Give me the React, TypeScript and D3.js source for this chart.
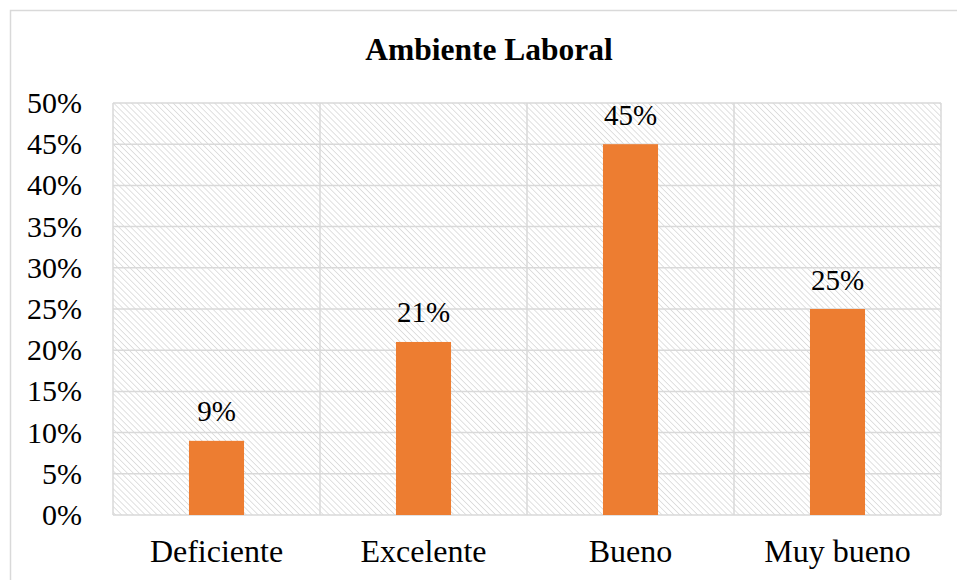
import * as d3 from 'd3';

const categories = ['Deficiente', 'Excelente', 'Bueno', 'Muy bueno'];
const values = [0.09, 0.21, 0.45, 0.25];
const tickValues = [0, 0.05, 0.1, 0.15, 0.2, 0.25, 0.3, 0.35, 0.4, 0.45, 0.5];

const width = 957;
const height = 580;
const margin = { top: 103, right: 16, bottom: 65, left: 113 };
const grid = '#d9d9d9';
const font = "'Liberation Serif', 'Times New Roman', serif";

export default function App() {
  const innerWidth = width - margin.left - margin.right;
  const innerHeight = height - margin.top - margin.bottom;

  const xScale = d3.scaleBand().domain(categories).range([0, innerWidth]);
  const yScale = d3.scaleLinear().domain([0, 0.5]).range([innerHeight, 0]);
  const barWidth = xScale.bandwidth() * 0.266;
  const fmt = d3.format('.0%');

  return (
    <svg
      width={width}
      height={height}
      style={{ position: 'absolute', left: 0, top: 0, background: '#fff', fontFamily: font }}
    >
      <defs>
        <pattern id="hatch" width={4.2} height={4.2} patternUnits="userSpaceOnUse" patternTransform="rotate(-45)">
          <line x1={0} y1={0} x2={0} y2={4.2} stroke={grid} strokeWidth={1.6} />
        </pattern>
      </defs>
      <rect x={10.5} y={10.5} width={width} height={height} fill="none" stroke={grid} strokeWidth={1.5} />
      <text x={489} y={60} textAnchor="middle" fontWeight="bold" fontSize={31.5}>
        Ambiente Laboral
      </text>
      <g transform={`translate(${margin.left}, ${margin.top})`}>
        <rect width={innerWidth} height={innerHeight} fill="url(#hatch)" />
        {tickValues.map(t => (
          <g key={t} transform={`translate(0, ${yScale(t)})`}>
            <line x2={innerWidth} stroke={grid} strokeWidth={1.5} />
            <text x={-31} y={10} textAnchor="end" fontSize={30}>
              {fmt(t)}
            </text>
          </g>
        ))}
        {categories.map(c => (
          <line key={c} x1={xScale(c)} x2={xScale(c)} y2={innerHeight} stroke={grid} strokeWidth={1.5} />
        ))}
        <line x1={innerWidth} x2={innerWidth} y2={innerHeight} stroke={grid} strokeWidth={1.5} />
        {categories.map((c, i) => {
          const cx = xScale(c) + xScale.bandwidth() / 2;
          return (
            <g key={c}>
              <rect
                x={cx - barWidth / 2}
                y={yScale(values[i])}
                width={barWidth}
                height={innerHeight - yScale(values[i])}
                fill="#ED7D31"
              />
              <text x={cx} y={yScale(values[i]) - 19.5} textAnchor="middle" fontSize={29}>
                {fmt(values[i])}
              </text>
              <text x={cx} y={innerHeight + 46.5} textAnchor="middle" fontSize={32}>
                {c}
              </text>
            </g>
          );
        })}
      </g>
    </svg>
  );
}
